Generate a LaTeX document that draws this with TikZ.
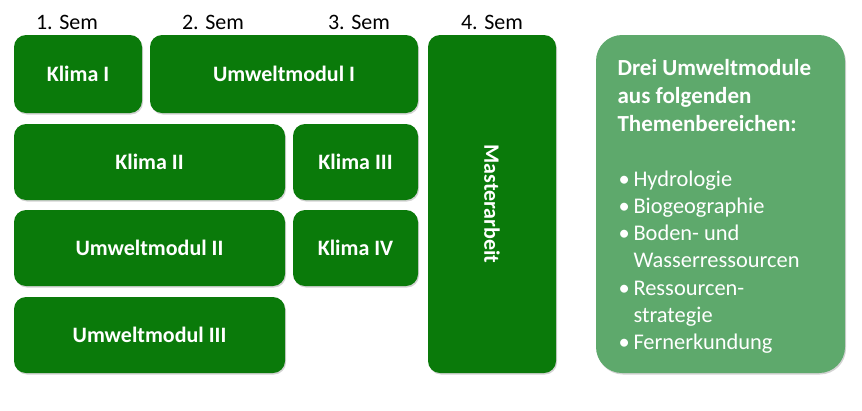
\documentclass[tikz,border=0pt]{standalone}
\usepackage{fontspec}
\setmainfont{Carlito}
\usepackage{xcolor}
\definecolor{darkgreen}{HTML}{0A7A0A}
\definecolor{lightgreen}{HTML}{5EA96C}
\usetikzlibrary{shadows}

\newcommand{\themitem}{\makebox[15pt][l]{\textbullet}}

\begin{document}
\begin{tikzpicture}[x=1pt, y=-1pt, every node/.style={font=\fontsize{22}{27}\selectfont},
    module/.style={fill=darkgreen, rounded corners=12pt, text=white, font=\fontsize{22}{27}\selectfont\bfseries,
      drop shadow={opacity=0.35, shadow xshift=1pt, shadow yshift=-1.5pt}}]
    \useasboundingbox (0,0) rectangle (862,410);

    % Semester labels
    \node (sem1) at (67,22) {1. Sem};
    \node (sem2) at (213,22) {2. Sem};
    \node (sem3) at (359,22) {3. Sem};
    \node (sem4) at (492,22) {4. Sem};

    % Modules
    \node[module, minimum width=128pt, minimum height=78pt] (klima1) at (78,74) {Klima I};
    \node[module, minimum width=268pt, minimum height=78pt] (umwelt1) at (284,74) {Umweltmodul I};
    \node[module, minimum width=271pt, minimum height=76pt] (klima2) at (149.5,162) {Klima II};
    \node[module, minimum width=125pt, minimum height=76pt] (klima3) at (355.5,162) {Klima III};
    \node[module, minimum width=271pt, minimum height=76pt] (umwelt2) at (149.5,248) {Umweltmodul II};
    \node[module, minimum width=125pt, minimum height=76pt] (klima4) at (355.5,248) {Klima IV};
    \node[module, minimum width=271pt, minimum height=76pt] (umwelt3) at (149.5,335) {Umweltmodul III};
    \node[module, minimum width=128pt, minimum height=338pt] (master) at (492,204) {};
    \node[text=white, font=\fontsize{22}{27}\selectfont\bfseries, rotate=-90] (mastertext) at (master.center) {Masterarbeit};

    % Themes
    \node[module, fill=lightgreen, rounded corners=26pt, minimum width=249pt, minimum height=338pt] (themen) at (720.5,204) {};
    \node[text=white, font=\fontsize{23}{28}\selectfont\bfseries, align=left, anchor=north west] (themtitle) at (614,56)
      {Drei Umweltmodule\\ aus folgenden\\ Themenbereichen:};
    \node[text=white, font=\fontsize{22.4}{27.3}\selectfont, align=left, anchor=north west] (themlist) at (615,167)
      {\themitem Hydrologie\\ \themitem Biogeographie\\ \themitem Boden- und\\
       \hspace*{15pt}Wasserressourcen\\ \themitem Ressourcen-\\
       \hspace*{15pt}strategie\\ \themitem Fernerkundung};
\end{tikzpicture}
\end{document}
